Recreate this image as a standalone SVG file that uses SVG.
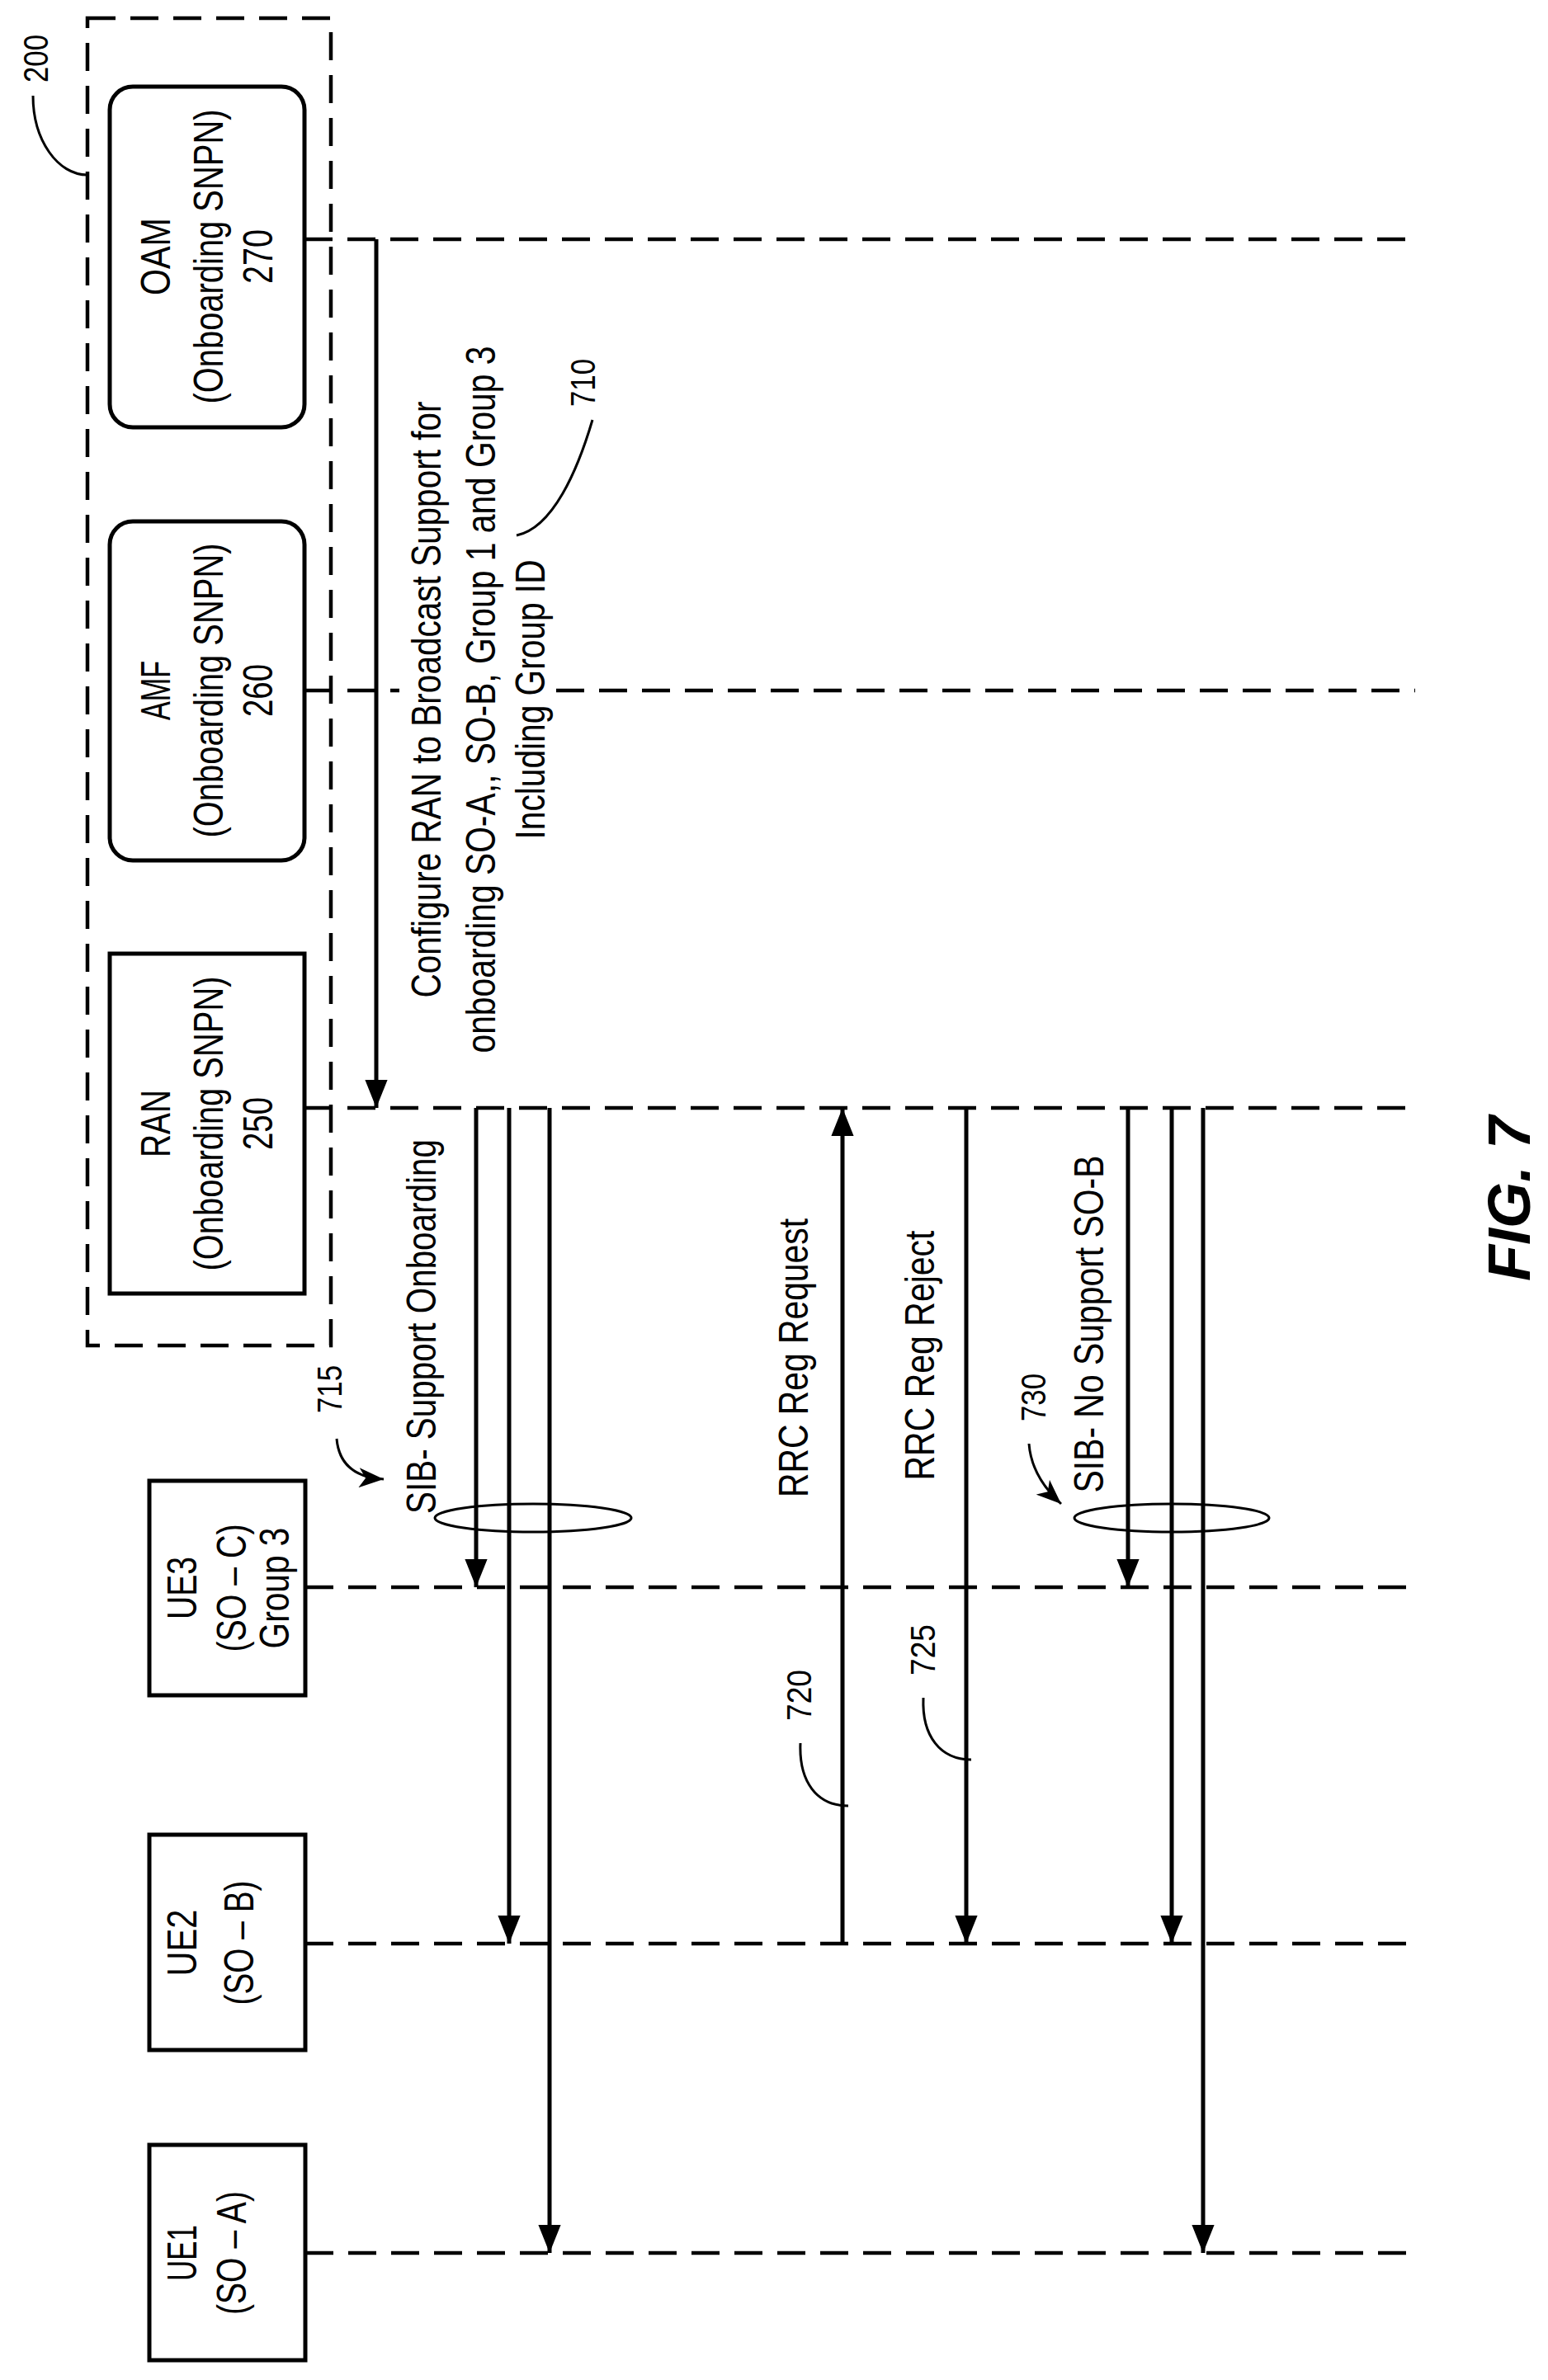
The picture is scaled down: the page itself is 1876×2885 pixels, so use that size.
<svg xmlns="http://www.w3.org/2000/svg" width="1876" height="2885" viewBox="0 0 1876 2885">
<style>
text{font-family:"Liberation Sans Narrow","Liberation Sans",Arial,sans-serif;font-size:50px;fill:#000}
.t{text-anchor:middle;dominant-baseline:central}
.n{font-size:42px}
.box{fill:#fff;stroke:#000;stroke-width:5}
.life{fill:none;stroke:#000;stroke-width:4.5;stroke-dasharray:34 18}
.msg{fill:none;stroke:#000;stroke-width:5}
.lead{fill:none;stroke:#000;stroke-width:3}
</style>
<defs>
<marker id="ah" markerUnits="userSpaceOnUse" markerWidth="34" markerHeight="42" refX="40" refY="16" orient="auto" viewBox="0 0 40 32">
<path d="M0,0 L40,16 L0,32 Z" fill="#000"/>
</marker>
<marker id="ah2" markerUnits="userSpaceOnUse" markerWidth="30" markerHeight="24" refX="30" refY="12" orient="auto" viewBox="0 0 30 24">
<path d="M0,0 L30,12 L0,24 L8,12 Z" fill="#000"/>
</marker>
</defs>
<g id="group200">
<rect x="106" y="22" width="295" height="1609" fill="none" stroke="#000" stroke-width="4.5" stroke-dasharray="34 18"/>
<path class="lead" d="M40,116 C40,170 70,212 106,212"/>
<text class="t n" transform="translate(43,71) rotate(-90)" textLength="58" lengthAdjust="spacingAndGlyphs">200</text>
</g>
<g id="connectors">
<line class="life" x1="369" y1="290" x2="1715" y2="290"/>
<line class="life" x1="369" y1="837" x2="484" y2="837"/>
<line class="life" x1="674" y1="837" x2="1715" y2="837"/>
<line class="life" x1="369" y1="1343" x2="1715" y2="1343"/>
<line class="life" x1="370" y1="1924" x2="1715" y2="1924"/>
<line class="life" x1="370" y1="2356" x2="1715" y2="2356"/>
<line class="life" x1="370" y1="2731" x2="1722" y2="2731"/>
<line class="msg" x1="456" y1="290" x2="456" y2="1343" marker-end="url(#ah)"/>
<line class="msg" x1="577" y1="1343" x2="577" y2="1924" marker-end="url(#ah)"/>
<line class="msg" x1="617" y1="1343" x2="617" y2="2356" marker-end="url(#ah)"/>
<line class="msg" x1="666" y1="1343" x2="666" y2="2731" marker-end="url(#ah)"/>
<line class="msg" x1="1021" y1="2356" x2="1021" y2="1343" marker-end="url(#ah)"/>
<line class="msg" x1="1171" y1="1343" x2="1171" y2="2356" marker-end="url(#ah)"/>
<line class="msg" x1="1367" y1="1343" x2="1367" y2="1924" marker-end="url(#ah)"/>
<line class="msg" x1="1420" y1="1343" x2="1420" y2="2356" marker-end="url(#ah)"/>
<line class="msg" x1="1458" y1="1343" x2="1458" y2="2731" marker-end="url(#ah)"/>
<ellipse cx="646" cy="1840" rx="119" ry="17" fill="none" stroke="#000" stroke-width="3"/>
<ellipse cx="1420" cy="1840" rx="118" ry="17" fill="none" stroke="#000" stroke-width="3"/>
<path class="lead" d="M408,1744 Q412,1790 465,1793" marker-end="url(#ah2)"/>
<path class="lead" d="M1247,1750 Q1250,1790 1286,1823" marker-end="url(#ah2)"/>
<path class="lead" d="M718,509 C700,570 670,640 626,649"/>
<path class="lead" d="M970,2113 C968,2160 990,2189 1028,2189"/>
<path class="lead" d="M1119,2058 C1117,2105 1140,2133 1177,2133"/>
</g>
<g id="labels">
<text class="t" transform="translate(517,848) rotate(-90)" textLength="723" lengthAdjust="spacingAndGlyphs">Configure RAN to Broadcast Support for</text>
<text class="t" transform="translate(583,848) rotate(-90)" textLength="857" lengthAdjust="spacingAndGlyphs">onboarding SO-A,, SO-B, Group 1 and Group 3</text>
<text class="t" transform="translate(643,848) rotate(-90)" textLength="339" lengthAdjust="spacingAndGlyphs">Including Group ID</text>
<text class="t n" transform="translate(706,464) rotate(-90)" textLength="58" lengthAdjust="spacingAndGlyphs">710</text>
<text class="t" transform="translate(511,1608) rotate(-90)" textLength="454" lengthAdjust="spacingAndGlyphs">SIB- Support Onboarding</text>
<text class="t n" transform="translate(399,1684) rotate(-90)" textLength="58" lengthAdjust="spacingAndGlyphs">715</text>
<text class="t" transform="translate(962,1646) rotate(-90)" textLength="338" lengthAdjust="spacingAndGlyphs">RRC Reg Request</text>
<text class="t" transform="translate(1115,1643) rotate(-90)" textLength="303" lengthAdjust="spacingAndGlyphs">RRC Reg Reject</text>
<text class="t" transform="translate(1320,1605) rotate(-90)" textLength="409" lengthAdjust="spacingAndGlyphs">SIB- No Support SO-B</text>
<text class="t n" transform="translate(1252,1694) rotate(-90)" textLength="58" lengthAdjust="spacingAndGlyphs">730</text>
<text class="t n" transform="translate(968,2055) rotate(-90)" textLength="62" lengthAdjust="spacingAndGlyphs">720</text>
<text class="t n" transform="translate(1118,2000) rotate(-90)" textLength="62" lengthAdjust="spacingAndGlyphs">725</text>
<text class="t" transform="translate(1829,1453) rotate(-90)" style="font-family:'Liberation Sans',Arial,sans-serif;font-weight:bold;font-style:italic;font-size:72px">FIG. 7</text>
</g>
<g id="oam">
<rect class="box" x="133" y="105" width="236" height="413" rx="28"/>
<text class="t" transform="translate(189,311) rotate(-90)" textLength="94" lengthAdjust="spacingAndGlyphs">OAM</text>
<text class="t" transform="translate(253,311) rotate(-90)" textLength="357" lengthAdjust="spacingAndGlyphs">(Onboarding SNPN)</text>
<text class="t" transform="translate(313,311) rotate(-90)" textLength="66" lengthAdjust="spacingAndGlyphs">270</text>
</g>
<g id="amf">
<rect class="box" x="133" y="632" width="236" height="411" rx="28"/>
<text class="t" transform="translate(189,837) rotate(-90)" textLength="72" lengthAdjust="spacingAndGlyphs">AMF</text>
<text class="t" transform="translate(253,837) rotate(-90)" textLength="357" lengthAdjust="spacingAndGlyphs">(Onboarding SNPN)</text>
<text class="t" transform="translate(313,837) rotate(-90)" textLength="64" lengthAdjust="spacingAndGlyphs">260</text>
</g>
<g id="ran">
<rect class="box" x="133" y="1156" width="236" height="412"/>
<text class="t" transform="translate(189,1362) rotate(-90)" textLength="82" lengthAdjust="spacingAndGlyphs">RAN</text>
<text class="t" transform="translate(253,1362) rotate(-90)" textLength="357" lengthAdjust="spacingAndGlyphs">(Onboarding SNPN)</text>
<text class="t" transform="translate(313,1362) rotate(-90)" textLength="64" lengthAdjust="spacingAndGlyphs">250</text>
</g>
<g id="ue3">
<rect class="box" x="181" y="1795" width="189" height="260"/>
<text class="t" transform="translate(221,1925) rotate(-90)" textLength="76" lengthAdjust="spacingAndGlyphs">UE3</text>
<text class="t" transform="translate(281,1925) rotate(-90)" textLength="155" lengthAdjust="spacingAndGlyphs">(SO – C)</text>
<text class="t" transform="translate(333,1925) rotate(-90)" textLength="147" lengthAdjust="spacingAndGlyphs">Group 3</text>
</g>
<g id="ue2">
<rect class="box" x="181" y="2224" width="189" height="261"/>
<text class="t" transform="translate(221,2355) rotate(-90)" textLength="81" lengthAdjust="spacingAndGlyphs">UE2</text>
<text class="t" transform="translate(290,2355) rotate(-90)" textLength="151" lengthAdjust="spacingAndGlyphs">(SO – B)</text>
</g>
<g id="ue1">
<rect class="box" x="181" y="2600" width="189" height="261"/>
<text class="t" transform="translate(221,2731) rotate(-90)" textLength="68" lengthAdjust="spacingAndGlyphs">UE1</text>
<text class="t" transform="translate(281,2731) rotate(-90)" textLength="150" lengthAdjust="spacingAndGlyphs">(SO – A)</text>
</g>
</svg>
